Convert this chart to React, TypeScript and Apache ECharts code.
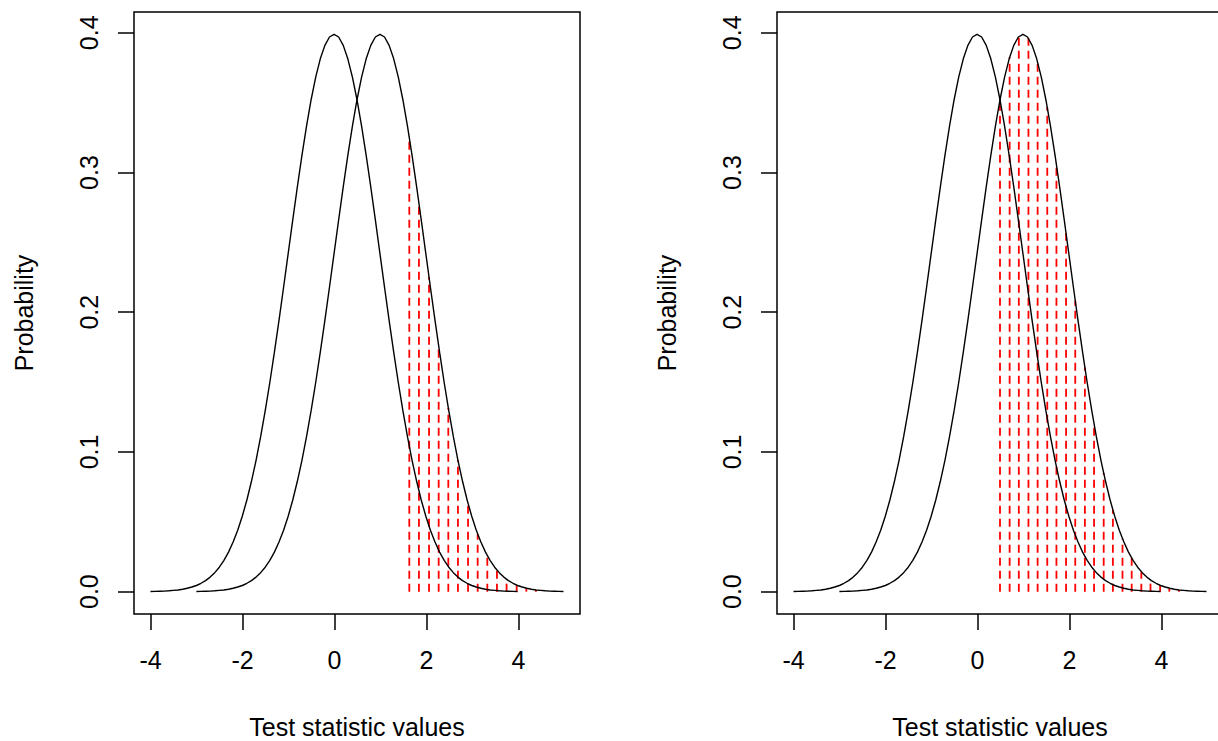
import React, { useEffect, useRef } from "react";
import * as echarts from "echarts";

// Null distribution curve (centred at 0)
const nullX = [
  -4.0, -3.9, -3.8, -3.7, -3.6, -3.5, -3.4, -3.3, -3.2, -3.1, -3.0, -2.9, -2.8, -2.7, -2.6, -2.5, -2.4, -2.3, -2.2, -2.1,
  -2.0, -1.9, -1.8, -1.7, -1.6, -1.5, -1.4, -1.3, -1.2, -1.1, -1.0, -0.9, -0.8, -0.7, -0.6, -0.5, -0.4, -0.3, -0.2, -0.1,
  0.0, 0.1, 0.2, 0.3, 0.4, 0.5, 0.6, 0.7, 0.8, 0.9, 1.0, 1.1, 1.2, 1.3, 1.4, 1.5, 1.6, 1.7, 1.8, 1.9,
  2.0, 2.1, 2.2, 2.3, 2.4, 2.5, 2.6, 2.7, 2.8, 2.9, 3.0, 3.1, 3.2, 3.3, 3.4, 3.5, 3.6, 3.7, 3.8, 3.9, 4.0,
];
const nullY = [
  0.0001, 0.0002, 0.0003, 0.0004, 0.0006, 0.0009, 0.0012, 0.0017, 0.0024, 0.0033, 0.0044, 0.006, 0.0079, 0.0104, 0.0136, 0.0175, 0.0224, 0.0283, 0.0355, 0.044,
  0.054, 0.0656, 0.079, 0.094, 0.1109, 0.1295, 0.1497, 0.1714, 0.1942, 0.2179, 0.242, 0.2661, 0.2897, 0.3123, 0.3332, 0.3521, 0.3683, 0.3814, 0.391, 0.397,
  0.3989, 0.397, 0.391, 0.3814, 0.3683, 0.3521, 0.3332, 0.3123, 0.2897, 0.2661, 0.242, 0.2179, 0.1942, 0.1714, 0.1497, 0.1295, 0.1109, 0.094, 0.079, 0.0656,
  0.054, 0.044, 0.0355, 0.0283, 0.0224, 0.0175, 0.0136, 0.0104, 0.0079, 0.006, 0.0044, 0.0033, 0.0024, 0.0017, 0.0012, 0.0009, 0.0006, 0.0004, 0.0003, 0.0002, 0.0001,
];

// Alternative distribution curve (centred at 1)
const altX = [
  -3.0, -2.9, -2.8, -2.7, -2.6, -2.5, -2.4, -2.3, -2.2, -2.1, -2.0, -1.9, -1.8, -1.7, -1.6, -1.5, -1.4, -1.3, -1.2, -1.1,
  -1.0, -0.9, -0.8, -0.7, -0.6, -0.5, -0.4, -0.3, -0.2, -0.1, 0.0, 0.1, 0.2, 0.3, 0.4, 0.5, 0.6, 0.7, 0.8, 0.9,
  1.0, 1.1, 1.2, 1.3, 1.4, 1.5, 1.6, 1.7, 1.8, 1.9, 2.0, 2.1, 2.2, 2.3, 2.4, 2.5, 2.6, 2.7, 2.8, 2.9,
  3.0, 3.1, 3.2, 3.3, 3.4, 3.5, 3.6, 3.7, 3.8, 3.9, 4.0, 4.1, 4.2, 4.3, 4.4, 4.5, 4.6, 4.7, 4.8, 4.9, 5.0,
];
const altY = [
  0.0001, 0.0002, 0.0003, 0.0004, 0.0006, 0.0009, 0.0012, 0.0017, 0.0024, 0.0033, 0.0044, 0.006, 0.0079, 0.0104, 0.0136, 0.0175, 0.0224, 0.0283, 0.0355, 0.044,
  0.054, 0.0656, 0.079, 0.094, 0.1109, 0.1295, 0.1497, 0.1714, 0.1942, 0.2179, 0.242, 0.2661, 0.2897, 0.3123, 0.3332, 0.3521, 0.3683, 0.3814, 0.391, 0.397,
  0.3989, 0.397, 0.391, 0.3814, 0.3683, 0.3521, 0.3332, 0.3123, 0.2897, 0.2661, 0.242, 0.2179, 0.1942, 0.1714, 0.1497, 0.1295, 0.1109, 0.094, 0.079, 0.0656,
  0.054, 0.044, 0.0355, 0.0283, 0.0224, 0.0175, 0.0136, 0.0104, 0.0079, 0.006, 0.0044, 0.0033, 0.0024, 0.0017, 0.0012, 0.0009, 0.0006, 0.0004, 0.0003, 0.0002, 0.0001,
];

// Red dashed lines, left panel (power region beyond 1.645)
const leftHatchX = [1.64, 1.85, 2.07, 2.28, 2.49, 2.7, 2.92, 3.13, 3.34, 3.55, 3.76, 3.98, 4.19, 4.4];
const leftHatchY = [0.3251, 0.278, 0.2251, 0.1758, 0.1315, 0.094, 0.0632, 0.0413, 0.0258, 0.0155, 0.0088, 0.0047, 0.0025, 0.0012];

// Red dashed lines, right panel (region beyond 0.5)
const rightHatchX = [0.5, 0.71, 0.91, 1.12, 1.32, 1.53, 1.73, 1.94, 2.14, 2.35, 2.55, 2.76, 2.96, 3.17, 3.37, 3.58, 3.78, 3.99, 4.19, 4.4];
const rightHatchY = [0.3521, 0.3825, 0.3973, 0.3961, 0.379, 0.3467, 0.3056, 0.2565, 0.2083, 0.1604, 0.12, 0.0848, 0.0584, 0.0379, 0.0241, 0.0143, 0.0084, 0.0046, 0.0025, 0.0012];

const xTickMin = -4;
const xTickMax = 4;
const xTickStep = 2;
const yTickMin = 0;
const yTickMax = 0.4;
const yTickStep = 0.1;
const xTitle = "Test statistic values";
const yTitle = "Probability";

const FONT = "'Liberation Sans', Arial, Helvetica, sans-serif";

export default function App() {
  const ref = useRef<HTMLDivElement>(null);

  useEffect(() => {
    document.body.style.margin = "0";
    const chart = echarts.init(ref.current!, undefined, { renderer: "svg" });

    const panels = [
      { boxLeft: 134, hx: leftHatchX, hy: leftHatchY },
      { boxLeft: 777, hx: rightHatchX, hy: rightHatchY },
    ];
    const boxTop = 12;
    const boxW = 446;
    const boxH = 602;
    const pxPerUnitX = 46;
    const xMin = -4.36;
    const xMax = 5.36;
    const yMin = -0.016;
    const yMax = 0.4149;
    const pxPerUnitY = boxH / (yMax - yMin);

    const grid: any[] = [];
    const xAxis: any[] = [];
    const yAxis: any[] = [];
    const series: any[] = [];
    const graphic: any[] = [];

    panels.forEach((p, i) => {
      // plotting region with box
      grid.push({
        left: p.boxLeft,
        top: boxTop,
        width: boxW,
        height: boxH,
        show: true,
        borderColor: "#000",
        borderWidth: 1.5,
        backgroundColor: "transparent",
      });
      xAxis.push({ type: "value", gridIndex: 2 * i, min: xMin, max: xMax, show: false });
      yAxis.push({ type: "value", gridIndex: 2 * i, min: yMin, max: yMax, show: false });

      // axis grid spanning tick range
      const tickLeft = p.boxLeft + (xTickMin - xMin) * pxPerUnitX;
      const tickTop = boxTop + (yMax - yTickMax) * pxPerUnitY;
      const tickBottom = boxTop + (yMax - yTickMin) * pxPerUnitY;
      grid.push({
        left: tickLeft,
        top: tickTop,
        width: (xTickMax - xTickMin) * pxPerUnitX,
        height: tickBottom - tickTop,
        show: false,
      });
      xAxis.push({
        type: "value",
        gridIndex: 2 * i + 1,
        min: xTickMin,
        max: xTickMax,
        interval: xTickStep,
        position: "bottom",
        offset: boxTop + boxH - tickBottom,
        axisLine: { show: false, onZero: false },
        axisTick: { show: true, length: 16, lineStyle: { color: "#000", width: 1.5 } },
        axisLabel: { fontSize: 25, color: "#000", fontFamily: FONT, margin: 33 },
        splitLine: { show: false },
      });
      yAxis.push({
        type: "value",
        gridIndex: 2 * i + 1,
        min: yTickMin,
        max: yTickMax,
        interval: yTickStep,
        position: "left",
        offset: tickLeft - p.boxLeft,
        axisLine: { show: false, onZero: false },
        axisTick: { show: true, length: 16, lineStyle: { color: "#000", width: 1.5 } },
        axisLabel: {
          fontSize: 25,
          color: "#000",
          fontFamily: FONT,
          rotate: 90,
          margin: 33,
          formatter: (v: number) => v.toFixed(1),
        },
        splitLine: { show: false },
      });

      const hatch = p.hx.map((x, k) => [x, p.hy[k]]);
      series.push({
        type: "custom",
        xAxisIndex: 2 * i,
        yAxisIndex: 2 * i,
        data: hatch,
        renderItem: (_params: any, api: any) => {
          const x = api.value(0);
          const h = api.value(1);
          const p0 = api.coord([x, 0]);
          const p1 = api.coord([x, h]);
          return {
            type: "line",
            shape: { x1: p0[0], y1: p0[1], x2: p1[0], y2: p1[1] },
            style: { stroke: "#ff0000", lineWidth: 1.8, lineDash: [8, 5] },
          };
        },
        silent: true,
      });
      series.push({
        type: "line",
        xAxisIndex: 2 * i,
        yAxisIndex: 2 * i,
        data: nullX.map((x, k) => [x, nullY[k]]),
        showSymbol: false,
        smooth: false,
        lineStyle: { color: "#000", width: 1.4 },
        silent: true,
      });
      series.push({
        type: "line",
        xAxisIndex: 2 * i,
        yAxisIndex: 2 * i,
        data: altX.map((x, k) => [x, altY[k]]),
        showSymbol: false,
        smooth: false,
        lineStyle: { color: "#000", width: 1.4 },
        silent: true,
      });

      graphic.push({
        type: "text",
        x: p.boxLeft + boxW / 2,
        y: 727,
        style: {
          text: xTitle,
          fontSize: 25,
          fontFamily: FONT,
          fill: "#000",
          align: "center",
          verticalAlign: "middle",
        },
      });
      graphic.push({
        type: "text",
        x: p.boxLeft - 110,
        y: boxTop + boxH / 2,
        rotation: Math.PI / 2,
        style: {
          text: yTitle,
          fontSize: 25,
          fontFamily: FONT,
          fill: "#000",
          align: "center",
          verticalAlign: "middle",
        },
      });
    });

    chart.setOption({
      animation: false,
      backgroundColor: "#fff",
      grid,
      xAxis,
      yAxis,
      series,
      graphic,
    });

    return () => chart.dispose();
  }, []);

  return (
    <div
      style={{
        position: "absolute",
        left: 0,
        top: 0,
        width: 1218,
        height: 741,
        overflow: "hidden",
        background: "#fff",
      }}
    >
      <div ref={ref} style={{ width: 1240, height: 741 }} />
    </div>
  );
}
